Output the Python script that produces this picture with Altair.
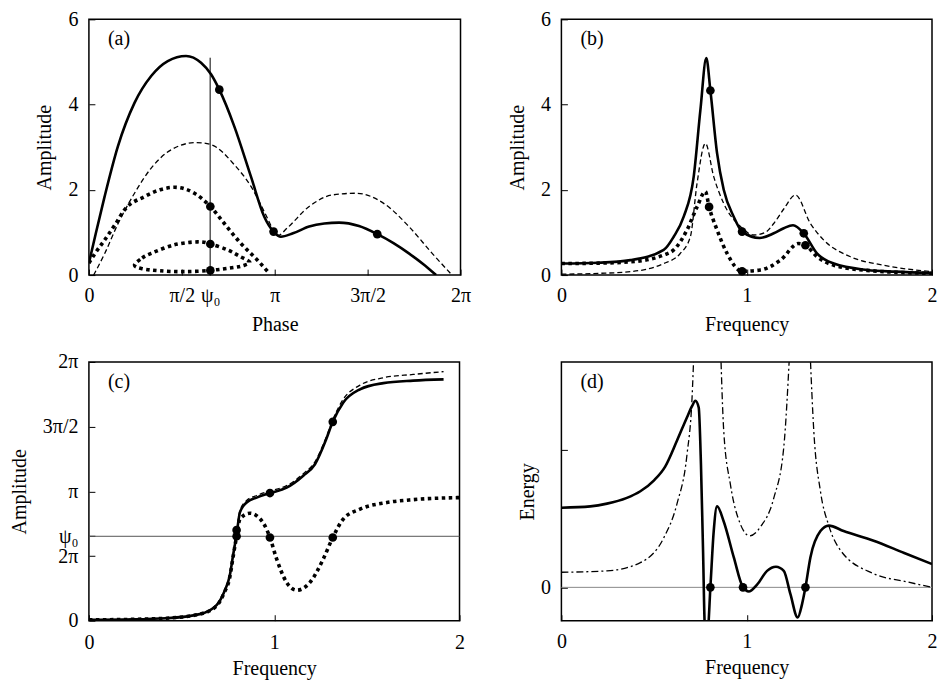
import math
import altair as alt
import pandas as pd

PI = math.pi
PSI0 = 2.05
FONT = "Liberation Serif"

# ---------------- Panel (a): amplitude vs phase ----------------
A_SOLID_X = [0, 0.12, 0.265, 0.49, 0.771, 1.053, 1.333, 1.643, 1.896, 2.065, 2.205, 2.458, 2.74, 2.965,
             3.122, 3.246, 3.45, 3.724, 3.98, 4.23, 4.567, 4.876, 5.15, 5.41, 5.65, 5.87]
A_SOLID_Y = [0.28, 1.0, 1.84, 3.02, 4.04, 4.67, 5.02, 5.14, 4.98, 4.71, 4.35, 3.49, 2.31, 1.37,
             1.02, 0.9, 0.98, 1.14, 1.21, 1.23, 1.15, 0.96, 0.75, 0.51, 0.26, 0.0]
A_DASH_X = [0.08, 0.265, 0.49, 0.771, 1.053, 1.39, 1.812, 2.065, 2.458, 2.74, 3.02, 3.12, 3.2, 3.35,
            3.724, 4.117, 4.511, 5.018, 5.41, 5.804, 6.14]
A_DASH_Y = [0.0, 0.5, 1.2, 1.92, 2.51, 2.94, 3.11, 3.06, 2.59, 2.08, 1.33, 1.05, 0.93, 1.1,
            1.61, 1.88, 1.92, 1.65, 1.14, 0.51, 0.0]
A_DOT_X = [0, 0.1, 0.265, 0.45, 0.602, 0.94, 1.2, 1.446, 1.783, 2.053, 2.29, 2.57, 2.85, 3.05]
A_DOT_Y = [0.28, 0.5, 0.82, 1.2, 1.53, 1.84, 2.0, 2.06, 1.92, 1.61, 1.21, 0.74, 0.35, 0.04]
A_LOOP_X = [0.771, 0.9, 1.053, 1.446, 1.84, 2.053, 2.345, 2.55, 2.72, 2.6, 2.458, 2.053, 1.6, 1.2, 0.9]
A_LOOP_Y = [0.235, 0.4, 0.51, 0.71, 0.78, 0.73, 0.59, 0.44, 0.3, 0.22, 0.18, 0.11, 0.08, 0.1, 0.15]
A_PTS_X = [2.205, 2.053, 2.053, 2.053, 3.122, 4.876]
A_PTS_Y = [4.35, 1.61, 0.73, 0.11, 1.02, 0.96]
A_VLINE_TOP = 5.1

# ---------------- Panel (b): amplitude vs frequency ----------------
B_SOLID_X = [0, 0.2, 0.372, 0.552, 0.606, 0.66, 0.714, 0.75, 0.782, 0.804, 0.84, 0.876, 0.93, 0.975,
             1.07, 1.146, 1.2, 1.25, 1.308, 1.379, 1.47, 1.65, 1.8, 2.0]
B_SOLID_Y = [0.27, 0.29, 0.35, 0.59, 0.9, 1.37, 2.31, 3.87, 5.09, 4.33, 2.86, 2.0, 1.37, 1.02,
             0.87, 0.98, 1.1, 1.17, 0.98, 0.51, 0.27, 0.12, 0.08, 0.05]
B_DASH_X = [0, 0.2, 0.372, 0.552, 0.64, 0.696, 0.732, 0.777, 0.822, 0.876, 0.966, 1.038, 1.1, 1.146,
            1.2, 1.263, 1.344, 1.416, 1.56, 1.74, 2.0]
B_DASH_Y = [0.02, 0.04, 0.08, 0.27, 0.5, 0.9, 2.15, 3.09, 2.31, 1.68, 1.14, 0.94, 1.0, 1.21,
            1.55, 1.88, 1.21, 0.82, 0.43, 0.23, 0.08]
B_DOT_X = [0, 0.2, 0.372, 0.552, 0.606, 0.678, 0.732, 0.777, 0.797, 0.84, 0.894, 0.975, 1.074, 1.182,
           1.28, 1.317, 1.38, 1.47, 1.65, 2.0]
B_DOT_Y = [0.27, 0.28, 0.31, 0.47, 0.59, 1.06, 1.6, 1.96, 1.6, 1.06, 0.51, 0.09, 0.12, 0.35,
           0.74, 0.7, 0.43, 0.23, 0.11, 0.04]
B_PTS_X = [0.804, 0.797, 0.975, 0.975, 1.308, 1.317]
B_PTS_Y = [4.33, 1.6, 1.02, 0.09, 0.98, 0.7]

# ---------------- Panel (c): phase vs frequency ----------------
C_SOLID_X = [0, 0.2, 0.418, 0.598, 0.689, 0.73, 0.76, 0.778, 0.797, 0.815, 0.851, 0.905, 0.977, 1.067,
             1.157, 1.22, 1.28, 1.316, 1.373, 1.463, 1.589, 1.75, 1.914]
C_SOLID_Y = [0.02, 0.03, 0.06, 0.16, 0.38, 0.7, 1.09, 1.58, 2.1, 2.63, 2.87, 2.99, 3.1, 3.23,
             3.52, 3.8, 4.4, 4.83, 5.3, 5.62, 5.77, 5.83, 5.86]
C_DASH_Y = [0.02, 0.03, 0.06, 0.16, 0.38, 0.7, 1.12, 1.62, 2.15, 2.68, 2.92, 3.04, 3.15, 3.28,
            3.57, 3.86, 4.45, 4.88, 5.38, 5.72, 5.9, 5.98, 6.05]
C_DOT_X = [0, 0.2, 0.418, 0.598, 0.689, 0.73, 0.76, 0.778, 0.797, 0.815, 0.869, 0.94, 0.977, 1.013,
           1.067, 1.121, 1.193, 1.265, 1.316, 1.373, 1.463, 1.608, 1.75, 2.0]
C_DOT_Y = [0.02, 0.03, 0.06, 0.16, 0.36, 0.68, 1.05, 1.55, 2.05, 2.47, 2.61, 2.38, 2.02, 1.5,
           0.93, 0.74, 0.93, 1.5, 2.02, 2.47, 2.71, 2.87, 2.94, 2.99]
C_PTS_X = [0.797, 0.797, 0.977, 0.977, 1.316, 1.316]
C_PTS_Y = [2.2, 2.05, 3.1, 2.02, 4.83, 2.02]

# ---------------- Panel (d): energy vs frequency ----------------
D_SOLID_X = [0, 0.156, 0.246, 0.35, 0.426, 0.5, 0.56, 0.624, 0.678, 0.705, 0.723, 0.741, 0.753, 0.764,
             0.775, 0.79, 0.804, 0.822, 0.84, 0.876, 0.93, 0.98, 1.011, 1.056, 1.11, 1.158, 1.2, 1.236,
             1.275, 1.299, 1.317, 1.344, 1.398, 1.443, 1.523, 1.685, 1.85, 2.0]
D_SOLID_Y = [0.58, 0.59, 0.61, 0.65, 0.7, 0.78, 0.88, 1.07, 1.24, 1.32, 1.36, 1.31, 0.9, 0.29,
             -0.3, -0.3, 0.0, 0.41, 0.59, 0.48, 0.22, 0.0, -0.03, 0.02, 0.12, 0.15, 0.12, -0.05,
             -0.22, -0.12, 0.0, 0.22, 0.41, 0.45, 0.41, 0.34, 0.25, 0.17]
D_DD1_X = [0, 0.246, 0.426, 0.552, 0.624, 0.678, 0.705, 0.716]
D_DD1_Y = [0.11, 0.12, 0.18, 0.36, 0.61, 0.97, 1.38, 1.75]
D_DD2_X = [0.859, 0.876, 0.912, 0.966, 1.016, 1.074, 1.146, 1.2, 1.233]
D_DD2_Y = [1.75, 1.14, 0.75, 0.46, 0.375, 0.44, 0.65, 1.02, 1.75]
D_DD3_X = [1.341, 1.362, 1.398, 1.443, 1.506, 1.685, 1.865, 2.0]
D_DD3_Y = [1.75, 1.14, 0.7, 0.45, 0.27, 0.1, 0.04, 0.0]
D_PTS_X = [0.804, 0.98, 1.317]
D_PTS_Y = [0.0, 0.0, 0.0]


def frame(xs, ys, branch="0"):
    return pd.DataFrame({"x": xs, "y": ys, "i": list(range(len(xs))), "b": branch})


def axis(values, expr=None, label_pad=10, title_pad=9):
    kw = dict(values=values, tickSize=6, offset=-6, domain=False, grid=False,
              labelFlush=False, labelOverlap=False, labelPadding=label_pad,
              titlePadding=title_pad, tickColor="black", tickWidth=1,
              labelColor="black", titleColor="black", labelFont=FONT, titleFont=FONT,
              labelFontSize=20, titleFontSize=20, titleFontWeight="normal", format="~g")
    if expr:
        kw["labelExpr"] = expr
    return alt.Axis(**kw)


STYLES = {
    "solid": dict(strokeWidth=2.6),
    "dash": dict(strokeWidth=1.3, strokeDash=[5, 3]),
    "dot": dict(strokeWidth=3.6, strokeDash=[3.5, 3.5]),
    "dashdot": dict(strokeWidth=1.3, strokeDash=[7, 3, 2, 3]),
}


def line(data, style, ex, ey, interp="monotone"):
    return alt.Chart(data).mark_line(color="black", clip=True, interpolate=interp,
                                     **STYLES[style]).encode(
        x=ex, y=ey, order="i:Q", detail="b:N")


def points(xs, ys, ex, ey):
    return alt.Chart(pd.DataFrame({"x": xs, "y": ys})).mark_circle(
        size=75, color="black", opacity=1).encode(x=ex, y=ey)


def tag(text):
    return alt.Chart(pd.DataFrame({"label": [text]})).mark_text(
        align="left", baseline="middle", font=FONT, fontSize=20, color="black").encode(
        x=alt.value(19), y=alt.value(20), text="label:N")


# ---------- (a)
ax_expr = ("datum.value < 0.5 ? '0' : datum.value < 1.8 ? 'π/2' : datum.value < 2.5 ? 'ψ₀' : "
           "datum.value < 3.5 ? 'π' : datum.value < 5 ? '3π/2' : '2π'")
xa = alt.X("x:Q", title="Phase", scale=alt.Scale(domain=[0, 2 * PI], nice=False, zero=False),
           axis=axis([0, PI / 2, PSI0, PI, 1.5 * PI, 2 * PI], ax_expr))
ya = alt.Y("y:Q", title="Amplitude", scale=alt.Scale(domain=[0, 6], nice=False),
           axis=axis([0, 2, 4, 6], label_pad=11, title_pad=13))
vline = alt.Chart(pd.DataFrame({"x": [PSI0], "y": [0.0], "y2": [A_VLINE_TOP]})).mark_rule(
    color="black", strokeWidth=1).encode(x=xa, y=ya, y2="y2:Q")
panel_a = alt.layer(
    vline,
    line(frame(A_DASH_X, A_DASH_Y), "dash", xa, ya),
    line(frame(A_DOT_X, A_DOT_Y), "dot", xa, ya),
    line(frame(A_LOOP_X, A_LOOP_Y), "dot", xa, ya, interp="cardinal-closed"),
    line(frame(A_SOLID_X, A_SOLID_Y), "solid", xa, ya),
    points(A_PTS_X, A_PTS_Y, xa, ya),
    tag("(a)"),
).properties(width=372, height=256)

# ---------- (b)
xb = alt.X("x:Q", title="Frequency", scale=alt.Scale(domain=[0, 2], nice=False),
           axis=axis([0, 1, 2]))
yb = alt.Y("y:Q", title="Amplitude", scale=alt.Scale(domain=[0, 6], nice=False),
           axis=axis([0, 2, 4, 6], label_pad=11, title_pad=13))
panel_b = alt.layer(
    line(frame(B_DASH_X, B_DASH_Y), "dash", xb, yb),
    line(frame(B_DOT_X, B_DOT_Y), "dot", xb, yb),
    line(frame(B_SOLID_X, B_SOLID_Y), "solid", xb, yb),
    points(B_PTS_X, B_PTS_Y, xb, yb),
    tag("(b)"),
).properties(width=371, height=256)

# ---------- (c)
cy_expr = ("datum.value < 0.5 ? '0' : datum.value < 1.8 ? '2π' : datum.value < 2.5 ? 'ψ₀' : "
           "datum.value < 3.5 ? 'π' : datum.value < 5 ? '3π/2' : '2π'")
xc = alt.X("x:Q", title="Frequency", scale=alt.Scale(domain=[0, 2], nice=False),
           axis=axis([0, 1, 2], label_pad=12, title_pad=6))
yc = alt.Y("y:Q", title="Amplitude", scale=alt.Scale(domain=[0, 2 * PI], nice=False),
           axis=axis([0, PI / 2, PSI0, PI, 1.5 * PI, 2 * PI], cy_expr, label_pad=11, title_pad=13))
hline_c = alt.Chart(pd.DataFrame({"y": [PSI0]})).mark_rule(
    color="#555555", strokeWidth=1).encode(y=yc)
panel_c = alt.layer(
    hline_c,
    line(frame(C_SOLID_X, C_DASH_Y), "dash", xc, yc),
    line(frame(C_DOT_X, C_DOT_Y), "dot", xc, yc),
    line(frame(C_SOLID_X, C_SOLID_Y), "solid", xc, yc),
    points(C_PTS_X, C_PTS_Y, xc, yc),
    tag("(c)"),
).properties(width=371, height=259)

# ---------- (d)
xd = alt.X("x:Q", title="Frequency", scale=alt.Scale(domain=[0, 2], nice=False),
           axis=axis([0, 1, 2], label_pad=11, title_pad=6))
yd = alt.Y("y:Q", title="Energy", scale=alt.Scale(domain=[-0.243, 1.642], nice=False, zero=False),
           axis=axis([0, 1], "datum.value == 0 ? '0' : ''", label_pad=11, title_pad=3))
hline_d = alt.Chart(pd.DataFrame({"y": [0.0]})).mark_rule(
    color="#888888", strokeWidth=1).encode(y=yd)
dd = pd.concat([frame(D_DD1_X, D_DD1_Y, "1"), frame(D_DD2_X, D_DD2_Y, "2"),
                frame(D_DD3_X, D_DD3_Y, "3")], ignore_index=True)
panel_d = alt.layer(
    hline_d,
    line(dd, "dashdot", xd, yd),
    line(frame(D_SOLID_X, D_SOLID_Y), "solid", xd, yd),
    points(D_PTS_X, D_PTS_Y, xd, yd),
    tag("(d)"),
).properties(width=371, height=259)

chart = alt.concat(panel_a, panel_b, panel_c, panel_d, columns=2, bounds="flush",
                   spacing={"row": 87, "column": 101}).properties(
    padding={"left": 0, "top": 0, "right": 0, "bottom": 0}
).configure_view(stroke="black", strokeWidth=1.5)

chart.save("out.html", embed_options={"renderer": "svg", "actions": False})
